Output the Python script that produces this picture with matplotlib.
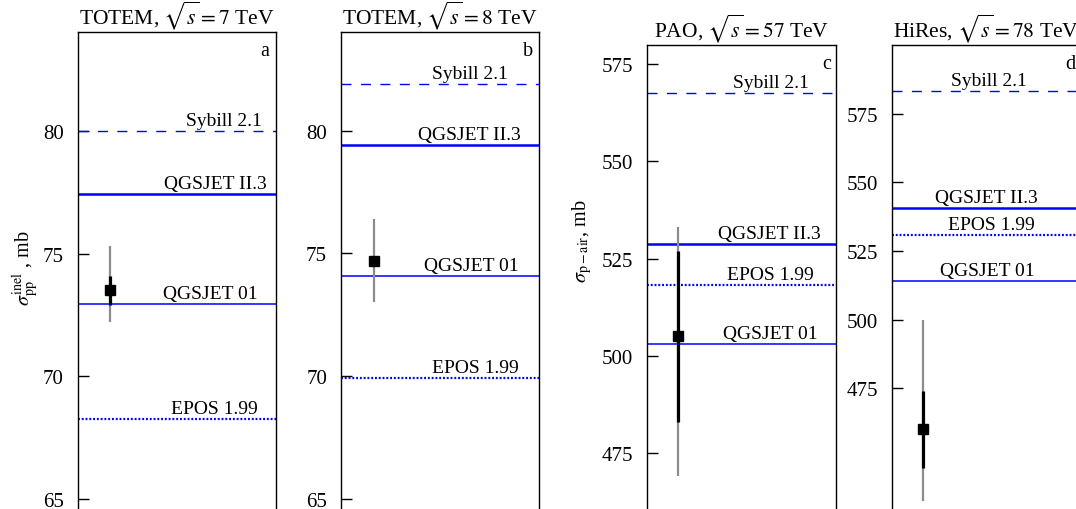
import matplotlib
matplotlib.use("Agg")
import matplotlib.pyplot as plt

plt.rcParams["font.family"] = ["Liberation Serif", "DejaVu Serif"]
plt.rcParams["mathtext.fontset"] = "stix"

# Panel titles and letters
titles = [r"TOTEM, $\sqrt{s} = 7$ TeV", r"TOTEM, $\sqrt{s} = 8$ TeV",
          r"PAO, $\sqrt{s} = 57$ TeV", r"HiRes, $\sqrt{s} = 78$ TeV"]
letters = ["a", "b", "c", "d"]

# Model predictions (mb)
model_names = ["Sybill 2.1", "QGSJET II.3", "QGSJET 01", "EPOS 1.99"]
sybill = [80.0, 81.92, 567.5, 583.2]
qgsjet2 = [77.45, 79.4, 528.7, 540.6]
qgsjet01 = [72.95, 74.08, 503.0, 514.0]
epos = [68.24, 69.9, 518.3, 530.8]

# Measurements: central value, statistical error, total upper / lower error
meas = [73.5, 74.7, 505.0, 460.0]
stat_err = [0.6, 0.0, 22.0, 14.0]
tot_up = [1.8, 1.7, 28.0, 40.0]
tot_dn = [1.3, 1.7, 36.0, 26.0]

# Y ticks per panel
yticks = [[65, 70, 75, 80], [65, 70, 75, 80],
          [475, 500, 525, 550, 575], [475, 500, 525, 550, 575]]
ylims = [(64.5, 84.04), (64.5, 84.02), (460.1, 579.96), (430.3, 600.1)]

# Layout (figure fractions) and label placement
W, H = 1076, 510
axes_px = [(77.5, 33, 198), (341, 33, 198), (647.3, 45.7, 189), (891.7, 45.7, 189)]
label_x = [[0.739, 0.697, 0.672, 0.693],
           [0.650, 0.649, 0.657, 0.680],
           [0.652, 0.644, 0.653, 0.649],
           [0.515, 0.500, 0.504, 0.530]]
line_styles = [dict(ls=(0, (7.2, 6.8)), lw=1.0),
               dict(ls="-", lw=1.8),
               dict(ls="-", lw=1.1),
               dict(ls=(0, (0.85, 0.85)), lw=1.6)]
blue = "#0000ff"
x_point = 0.165

fig = plt.figure(figsize=(W / 100, H / 100), dpi=100)

for i in range(4):
    left, top, width = axes_px[i]
    bottom_px = H + 2
    ax = fig.add_axes([left / W, 1 - bottom_px / H, width / W, (bottom_px - top) / H])
    ax.set_xlim(0, 1)
    ax.set_ylim(*ylims[i])
    values = [sybill[i], qgsjet2[i], qgsjet01[i], epos[i]]
    for name, v, st, lx in zip(model_names, values, line_styles, label_x[i]):
        ax.axhline(v, color=blue, linestyle=st["ls"], lw=st["lw"], zorder=2)
        ax.annotate(name, xy=(lx, v), xytext=(0, 6), textcoords="offset pixels",
                    ha="center", va="baseline", fontsize=14)
    # total (grey) and statistical (black) error bars
    ax.errorbar([x_point], [meas[i]], yerr=[[tot_dn[i]], [tot_up[i]]],
                fmt="none", ecolor="#8c8c8c", elinewidth=1.6, capsize=0, zorder=3)
    if stat_err[i] > 0:
        ax.errorbar([x_point], [meas[i]], yerr=[[stat_err[i]], [stat_err[i]]],
                    fmt="none", ecolor="black", elinewidth=2.3, capsize=0, zorder=4)
    ax.plot([x_point], [meas[i]], marker="s", ms=7.5, color="black", zorder=5)

    ax.set_yticks(yticks[i])
    ax.set_xticks([])
    ax.tick_params(axis="y", direction="in", length=8, width=1.0, labelsize=15,
                   pad=10, right=False)
    for sp in ax.spines.values():
        sp.set_linewidth(1.0)
    ax.set_title(titles[i], fontsize=15.5, pad=6)
    ax.text(0.947, 1 - 19 / (bottom_px - top), letters[i], transform=ax.transAxes,
            ha="center", va="center", fontsize=14.5)

fig.text(26 / W, 1 - 268 / H, r"$\sigma_{\rm pp}^{\rm inel}$ , mb", rotation=90,
         ha="center", va="center", fontsize=14.5)
fig.text(582 / W, 1 - 241 / H, r"$\sigma_{\rm p-air}$, mb", rotation=90,
         ha="center", va="center", fontsize=14.5)

fig.savefig("out.png", dpi=100)
